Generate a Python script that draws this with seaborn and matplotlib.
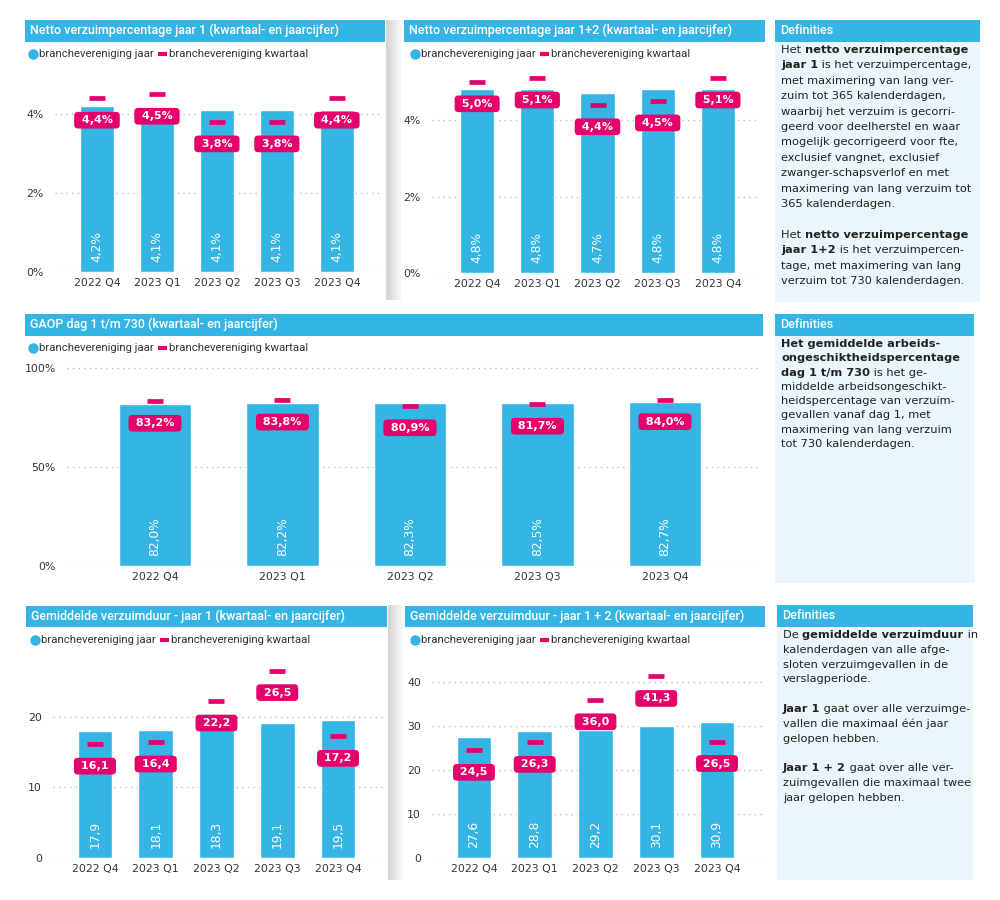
import matplotlib.pyplot as plt
import matplotlib.patches as mpatches
from matplotlib.lines import Line2D
import seaborn as sns
import pandas as pd

CYAN = "#35B5E4"
MAGENTA = "#E5006B"
DEF_BG = "#EAF6FB"
TXT = "#333333"

kwartalen = ["2022 Q4", "2023 Q1", "2023 Q2", "2023 Q3", "2023 Q4"]

netto_j1_jaar = [4.2, 4.1, 4.1, 4.1, 4.1]
netto_j1_kwartaal = [4.4, 4.5, 3.8, 3.8, 4.4]

netto_j12_jaar = [4.8, 4.8, 4.7, 4.8, 4.8]
netto_j12_kwartaal = [5.0, 5.1, 4.4, 4.5, 5.1]

gaop_jaar = [82.0, 82.2, 82.3, 82.5, 82.7]
gaop_kwartaal = [83.2, 83.8, 80.9, 81.7, 84.0]

duur_j1_jaar = [17.9, 18.1, 18.3, 19.1, 19.5]
duur_j1_kwartaal = [16.1, 16.4, 22.2, 26.5, 17.2]

duur_j12_jaar = [27.6, 28.8, 29.2, 30.1, 30.9]
duur_j12_kwartaal = [24.5, 26.3, 36.0, 41.3, 26.5]

legend_labels = ["branchevereniging jaar", "branchevereniging kwartaal"]

# definitions: each line is a list of (text, bold)
def_netto = [
    [("Het ", False), ("netto verzuimpercentage", True)],
    [("jaar 1", True), (" is het verzuimpercentage,", False)],
    [("met maximering van lang ver-", False)],
    [("zuim tot 365 kalenderdagen,", False)],
    [("waarbij het verzuim is gecorri-", False)],
    [("geerd voor deelherstel en waar", False)],
    [("mogelijk gecorrigeerd voor fte,", False)],
    [("exclusief vangnet, exclusief", False)],
    [("zwanger-schapsverlof en met", False)],
    [("maximering van lang verzuim tot", False)],
    [("365 kalenderdagen.", False)],
    [],
    [("Het ", False), ("netto verzuimpercentage", True)],
    [("jaar 1+2", True), (" is het verzuimpercen-", False)],
    [("tage, met maximering van lang", False)],
    [("verzuim tot 730 kalenderdagen.", False)],
]
def_gaop = [
    [("Het gemiddelde arbeids-", True)],
    [("ongeschiktheidspercentage", True)],
    [("dag 1 t/m 730", True), (" is het ge-", False)],
    [("middelde arbeidsongeschikt-", False)],
    [("heidspercentage van verzuim-", False)],
    [("gevallen vanaf dag 1, met", False)],
    [("maximering van lang verzuim", False)],
    [("tot 730 kalenderdagen.", False)],
]
def_duur = [
    [("De ", False), ("gemiddelde verzuimduur", True), (" in", False)],
    [("kalenderdagen van alle afge-", False)],
    [("sloten verzuimgevallen in de", False)],
    [("verslagperiode.", False)],
    [],
    [("Jaar 1", True), (" gaat over alle verzuimge-", False)],
    [("vallen die maximaal één jaar", False)],
    [("gelopen hebben.", False)],
    [],
    [("Jaar 1 + 2", True), (" gaat over alle ver-", False)],
    [("zuimgevallen die maximaal twee", False)],
    [("jaar gelopen hebben.", False)],
]

sns.set_theme(style="white")
plt.rcParams["font.family"] = ["DejaVu Sans"]

W, H = 1000, 900
fig = plt.figure(figsize=(10, 9), dpi=100)
fig.patch.set_facecolor("white")
renderer = fig.canvas.get_renderer()


def fx(x):
    return x / W


def fy(y):
    return 1 - y / H


def add_ax(x0, x1, ytop, ybot):
    return fig.add_axes([fx(x0), fy(ybot), (x1 - x0) / W, (ybot - ytop) / H])


def rect(x0, x1, y0, y1, color, z=0):
    fig.add_artist(mpatches.Rectangle((fx(x0), fy(y1)), (x1 - x0) / W, (y1 - y0) / H,
                                      transform=fig.transFigure, fc=color, ec="none", zorder=z))


def title_bar(x0, x1, y0, y1, text):
    rect(x0, x1, y0, y1, CYAN)
    fig.text(fx(x0 + 5), fy((y0 + y1) / 2 - 0.5), text, color="white", fontsize=9.0,
             family="Roboto", fontweight="medium", va="center", ha="left")


def legend(x, y):
    fig.add_artist(Line2D([fx(x)], [fy(y)], marker="o", ms=7.5, color=CYAN, mec="none",
                          transform=fig.transFigure))
    t = fig.text(fx(x + 6), fy(y), legend_labels[0], fontsize=8.2, family="Roboto",
                 color=TXT, va="center")
    end = x + 6 + t.get_window_extent(renderer).width
    fig.add_artist(Line2D([fx(end + 4), fx(end + 13)], [fy(y), fy(y)], lw=3, color=MAGENTA,
                          transform=fig.transFigure, solid_capstyle="butt"))
    fig.text(fx(end + 15), fy(y), legend_labels[1], fontsize=8.2, family="Roboto",
             color=TXT, va="center")


def fmt(v, pct):
    s = f"{v:.1f}".replace(".", ",")
    return s + "%" if pct else s


def draw_panel(ax, jaar, kwartaal, xlim, ylim, ticks, pct):
    df = pd.DataFrame({"periode": kwartalen, "jaar": jaar, "kwartaal": kwartaal})
    sns.barplot(data=df, x="periode", y="jaar", color=CYAN, saturation=1, width=0.57,
                ax=ax, zorder=2)
    sns.scatterplot(data=df, x="periode", y="kwartaal", marker="_", s=125, linewidth=3.4,
                    color=MAGENTA, ax=ax, zorder=4, legend=False)
    for i, v in enumerate(jaar):
        ax.annotate(fmt(v, pct), xy=(i, 0), xytext=(0, 10), textcoords="offset pixels",
                    rotation=90, ha="center", va="bottom", color="white", fontsize=8.8, zorder=5)
    for i, v in enumerate(kwartaal):
        ax.annotate(" " + fmt(v, pct) + " ", xy=(i, v), xytext=(0, -22), textcoords="offset pixels",
                    ha="center", va="center", color="white", fontsize=8, fontweight="bold",
                    bbox=dict(boxstyle="round,pad=0.3,rounding_size=0.35", fc=MAGENTA, ec="none"),
                    zorder=6)
    ax.set_xlim(*xlim)
    ax.set_ylim(*ylim)
    ax.set_yticks(ticks)
    ax.set_yticklabels([f"{t}%" if pct else f"{t}" for t in ticks])
    ax.set_xlabel("")
    ax.set_ylabel("")
    ax.yaxis.grid(True, linestyle=(0, (1, 3)), color="#bdbdbd", linewidth=1)
    ax.xaxis.grid(False)
    ax.set_axisbelow(True)
    ax.set_facecolor("none")
    sns.despine(ax=ax, left=True, bottom=True)
    ax.tick_params(length=0, labelsize=7.8, colors=TXT)
    ax.tick_params(axis="x", pad=4)
    ax.tick_params(axis="y", pad=8)


def rich_lines(x, y, spacing, lines, size=8.2):
    for n, segs in enumerate(lines):
        cx = x
        yy = fy(y + n * spacing)
        for text, bold in segs:
            t = fig.text(fx(cx), yy, text.replace(" ", "\u00a0"), fontsize=size,
                         fontweight="bold" if bold else "normal", color="#222222",
                         va="center", ha="left", zorder=3)
            cx += t.get_window_extent(renderer).width


def def_box(x0, x1, y0, y1, lines, spacing):
    rect(x0, x1, y0 + 22, y1, DEF_BG)
    title_bar(x0, x1, y0, y0 + 22, "Definities")
    rich_lines(x0 + 6, y0 + 30, spacing, lines)


def shadow(x0, y0, y1):
    shades = ["#d6d6d6", "#dedede", "#e6e6e6", "#eeeeee", "#f5f5f5"]
    for k, c in enumerate(shades):
        rect(x0 + k * 3, x0 + k * 3 + 3, y0, y1, c)


# panel shadows
shadow(386, 20, 300)
shadow(388, 605, 880)

# top row
title_bar(25, 385, 20, 42, "Netto verzuimpercentage jaar 1 (kwartaal- en jaarcijfer)")
legend(33, 54)
ax1 = add_ax(55, 380, 74.5, 272)
draw_panel(ax1, netto_j1_jaar, netto_j1_kwartaal, (-0.7, 4.72), (0, 5.0), [0, 2, 4], True)

title_bar(404, 765, 20, 42, "Netto verzuimpercentage jaar 1+2 (kwartaal- en jaarcijfer)")
legend(415, 54)
ax2 = add_ax(432, 760, 66.5, 273)
draw_panel(ax2, netto_j12_jaar, netto_j12_kwartaal, (-0.75, 4.7), (0, 5.4), [0, 2, 4], True)

def_box(775, 980, 20, 302, def_netto, 15.4)

# middle row
title_bar(25, 763, 314, 336, "GAOP dag 1 t/m 730 (kwartaal- en jaarcijfer)")
legend(33, 348)
ax3 = add_ax(67, 758, 366, 566)
draw_panel(ax3, gaop_jaar, gaop_kwartaal, (-0.69, 4.73), (0, 101), [0, 50, 100], True)

def_box(775, 974, 314, 583, def_gaop, 14.3)

# bottom row
title_bar(26, 387, 606, 627, "Gemiddelde verzuimduur - jaar 1 (kwartaal- en jaarcijfer)")
legend(35, 640)
ax4 = add_ax(53, 383, 660, 858)
draw_panel(ax4, duur_j1_jaar, duur_j1_kwartaal, (-0.69, 4.74), (0, 28), [0, 10, 20], False)

title_bar(405, 765, 606, 627, "Gemiddelde verzuimduur - jaar 1 + 2 (kwartaal- en jaarcijfer)")
legend(415, 640)
ax5 = add_ax(432, 762, 669, 858)
draw_panel(ax5, duur_j12_jaar, duur_j12_kwartaal, (-0.69, 4.74), (0, 43), [0, 10, 20, 30, 40], False)

def_box(777, 973, 605, 880, def_duur, 14.8)

fig.savefig("out.png", dpi=100)
